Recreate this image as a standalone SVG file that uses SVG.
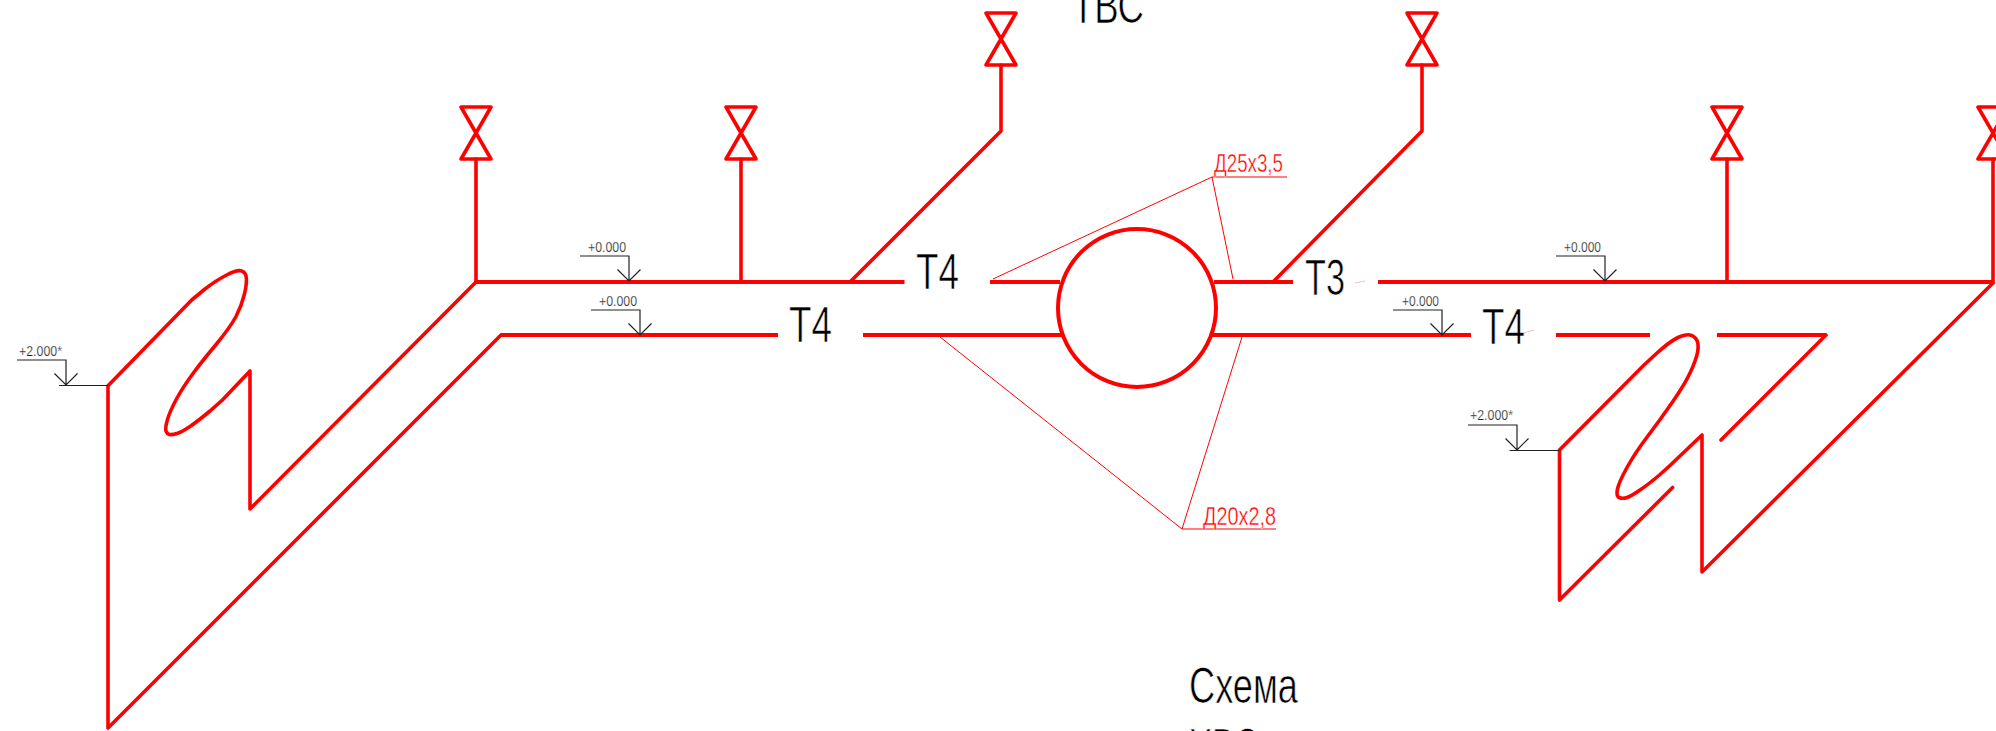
<svg xmlns="http://www.w3.org/2000/svg" xmlns:xlink="http://www.w3.org/1999/xlink" width="1996" height="731" viewBox="0 0 1996 731">
<style>
.pipe{fill:none;stroke:#f00;stroke-width:3.6;stroke-linejoin:round;stroke-linecap:round}
.butt{stroke-linecap:butt;stroke-width:4}
.leader{fill:none;stroke:#f00;stroke-width:1}
.mark{fill:none;stroke:#222;stroke-width:1.2}
.big{font-family:"Liberation Sans",sans-serif;font-size:50px;fill:#000;stroke:#fff;stroke-width:.7px}
.size{font-family:"Liberation Sans",sans-serif;font-size:25px;fill:#f00;stroke:#fff;stroke-width:.4px}
.lvl{font-family:"Liberation Sans",sans-serif;font-size:15px;fill:#222;stroke:#fff;stroke-width:.25px}
</style>
<defs>
<path id="valve" class="pipe" d="M-15,-26H15L-15,26H15Z"/>
<path id="lm" class="mark" d="M-49,-25H0V0M-11.500,-11.500L0,0L11.500,-11.500"/>
</defs>
<rect width="1996" height="731" fill="#fff"/>
<g id="connectors">
<path class="pipe" d="M476,159V282M741,159V282M1001,65V131L850,282M1422,65V131L1273,282M1727,159V282M1993,159V283"/>
<path class="pipe butt" d="M476,282H904.500M990,282H1060M1214,282H1293M1378,282H1993"/>
<path class="pipe butt" d="M501,335H778M863,335H1062M1212,335H1471M1556,335H1650M1717,335H1826"/>
<path class="pipe" d="M1826,335L1721,440"/>
<path class="pipe" d="M501,335L108,728V385.700L191.700,300L205,289Q216.700,280 226.700,275Q236.700,269.700 241,270.800Q246,272 246.400,278.500Q246.700,285 244.200,295Q241.700,305.400 236,316.500Q230,327.500 216.500,344Q203,360 193,373.500Q183,387 176.500,399Q170,411 167.500,419.500Q165,428 166,431Q167,434 169.500,434.500Q172,435 177,433.500Q181.700,432 190,426.500Q198,421 210,411L221.700,400.700L250,371V509L476,282"/>
<path class="pipe" d="M1672.600,487.500L1559.500,600V450L1644,365L1657,353Q1670.500,341 1678,337.500Q1686,334 1690,335Q1694.600,336 1697,340.500Q1699,345 1697.500,352.500Q1696,360 1690.500,372Q1685,384 1672.500,402Q1660,420 1647.500,436.500Q1635,453 1627,467.500Q1619,482 1617.500,489Q1616,496 1619,497.500Q1622.600,499 1627,497.500Q1631.500,496 1640,490Q1649,484 1660,474.500L1670.500,465L1702,435V572L1993,283"/>
<path class="leader" d="M993,279L1212,177L1233,279M1212,177H1287M940,337L1182,529L1242,337M1182,529H1276"/>
<path d="M1355,283L1365,281M1524,333L1534,330" fill="none" stroke="#fbb" stroke-width="1"/>
</g>
<g id="tank"><circle cx="1137" cy="308" r="79" fill="none" stroke="#f00" stroke-width="4"/></g>
<g id="valve-1"><use xlink:href="#valve" x="476" y="133"/></g>
<g id="valve-2"><use xlink:href="#valve" x="741" y="133"/></g>
<g id="valve-3"><use xlink:href="#valve" x="1001" y="39"/></g>
<g id="valve-4"><use xlink:href="#valve" x="1422" y="39"/></g>
<g id="valve-5"><use xlink:href="#valve" x="1727" y="133"/></g>
<g id="valve-6"><use xlink:href="#valve" x="1993" y="133"/></g>
<g id="level-1"><use xlink:href="#lm" x="629" y="281"/><text class="lvl" x="588" y="252" textLength="38" lengthAdjust="spacingAndGlyphs">+0.000</text></g>
<g id="level-2"><use xlink:href="#lm" x="640" y="335"/><text class="lvl" x="599" y="306" textLength="38" lengthAdjust="spacingAndGlyphs">+0.000</text></g>
<g id="level-3"><use xlink:href="#lm" x="1442" y="335"/><text class="lvl" x="1402" y="306" textLength="37" lengthAdjust="spacingAndGlyphs">+0.000</text></g>
<g id="level-4"><use xlink:href="#lm" x="1605" y="281"/><text class="lvl" x="1564" y="252" textLength="37" lengthAdjust="spacingAndGlyphs">+0.000</text></g>
<g id="level-5"><use xlink:href="#lm" x="66" y="385"/><path class="mark" d="M59,385.500H108"/><text class="lvl" x="19" y="356" textLength="43" lengthAdjust="spacingAndGlyphs">+2.000*</text></g>
<g id="level-6"><use xlink:href="#lm" x="1517" y="450"/><path class="mark" d="M1509.500,450.500H1559.500"/><text class="lvl" x="1470" y="420" textLength="43" lengthAdjust="spacingAndGlyphs">+2.000*</text></g>
<g id="label-t4-1"><text class="big" x="916" y="289" textLength="43" lengthAdjust="spacingAndGlyphs">Т4</text></g>
<g id="label-t4-2"><text class="big" x="789" y="342" textLength="43" lengthAdjust="spacingAndGlyphs">Т4</text></g>
<g id="label-t3"><text class="big" x="1305" y="295" textLength="40" lengthAdjust="spacingAndGlyphs">Т3</text></g>
<g id="label-t4-3"><text class="big" x="1482" y="344" textLength="43" lengthAdjust="spacingAndGlyphs">Т4</text></g>
<g id="title-tvs"><text class="big" x="1072" y="23" textLength="72" lengthAdjust="spacingAndGlyphs">ТВС</text></g>
<g id="size-25"><text class="size" x="1214" y="172" textLength="69" lengthAdjust="spacingAndGlyphs">Д25х3,5</text></g>
<g id="size-20"><text class="size" x="1203" y="525" textLength="73" lengthAdjust="spacingAndGlyphs">Д20х2,8</text></g>
<g id="title-scheme"><text class="big" x="1189" y="703" textLength="109" lengthAdjust="spacingAndGlyphs">Схема</text><text class="big" x="1189" y="764" textLength="70" lengthAdjust="spacingAndGlyphs">ХВС</text></g>
</svg>
